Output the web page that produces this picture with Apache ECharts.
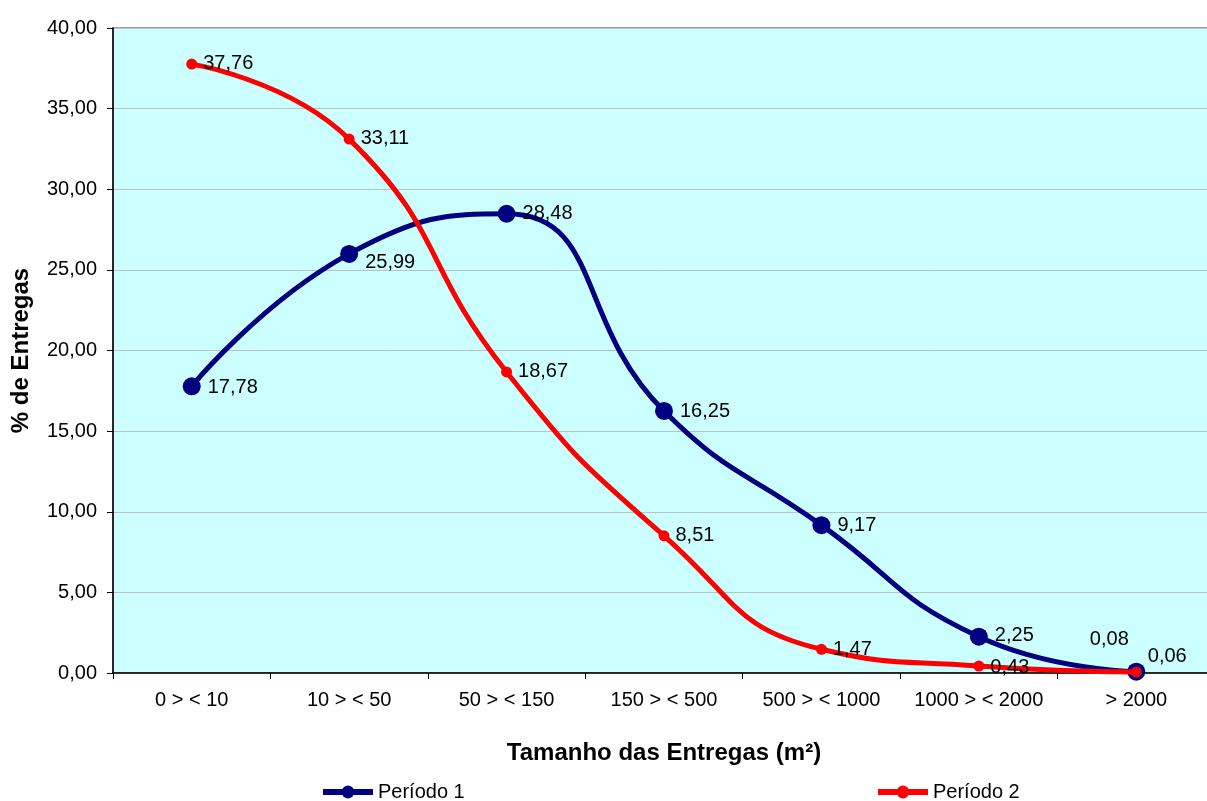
<!DOCTYPE html>
<html>
<head>
<meta charset="utf-8">
<script src="https://cdn.jsdelivr.net/npm/echarts@6/dist/echarts.min.js"></script>
<style>
  html, body { margin: 0; padding: 0; background: #fff; }
  #main { width: 1207px; height: 801px; }
</style>
</head>
<body>
<div id="main"></div>
<script>
const categories = ['0 > < 10', '10 > < 50', '50 > < 150', '150 > < 500', '500 > < 1000', '1000 > < 2000', '> 2000'];
const periodo1 = [17.78, 25.99, 28.48, 16.25, 9.17, 2.25, 0.08];
const periodo2 = [37.76, 33.11, 18.67, 8.51, 1.47, 0.43, 0.06];

const fmt = (v) => v.toFixed(2).replace('.', ',');
const font = 'Liberation Sans, Arial, sans-serif';

// label offsets per point, to mimic the original placement
const p1Offsets = [[0, 1], [0, 9], [0, 0], [0, 1], [0, 0], [0, -1], [0, 0]];
const p2Offsets = [[0, -1], [0, -1], [0, 0], [0, 0], [0, 0], [0, 1], [0, -16]];

function buildData(values, offsets, special) {
  return values.map((v, i) => {
    let item = {value: v, label: {offset: offsets[i]}};
    if (special && special[i]) {
      item.label = special[i];
    }
    return item;
  });
}

const chart = echarts.init(document.getElementById('main'));

const legendText = {fontSize: 20, color: '#000', fontFamily: font};

const option = {
  animation: false,
  textStyle: {fontFamily: font},
  grid: {
    left: 113,
    top: 28,
    width: 1102,
    height: 645,
    outerBoundsMode: 'none',
    show: true,
    backgroundColor: '#ccffff',
    borderColor: '#808080',
    borderWidth: 1.5,
    containLabel: false
  },
  legend: [
    {
      data: ['Período 1'],
      left: 320,
      top: 782,
      padding: 0,
      itemWidth: 50,
      itemHeight: 16,
      lineStyle: {width: 6},
      textStyle: legendText
    },
    {
      data: ['Período 2'],
      left: 875,
      top: 782,
      padding: 0,
      itemWidth: 50,
      itemHeight: 16,
      lineStyle: {width: 6},
      textStyle: legendText
    }
  ],
  xAxis: {
    type: 'category',
    data: categories,
    boundaryGap: true,
    name: 'Tamanho das Entregas (m²)',
    nameLocation: 'middle',
    nameGap: 68,
    nameTextStyle: {fontSize: 24, fontWeight: 'bold', color: '#000', fontFamily: font},
    axisLine: {lineStyle: {color: '#000', width: 1.5}},
    axisTick: {show: true, interval: 0, length: 6, lineStyle: {color: '#000'}},
    axisLabel: {interval: 0, fontSize: 20, color: '#000', margin: 17, fontFamily: font},
    splitLine: {show: false}
  },
  yAxis: {
    type: 'value',
    min: 0,
    max: 40,
    interval: 5,
    name: '% de Entregas',
    nameLocation: 'middle',
    nameGap: 80,
    nameRotate: 90,
    nameTextStyle: {fontSize: 24, fontWeight: 'bold', color: '#000', fontFamily: font},
    axisLine: {show: true, lineStyle: {color: '#000', width: 1.5}},
    axisTick: {show: true, length: 6, lineStyle: {color: '#000'}},
    axisLabel: {fontSize: 20, color: '#000', margin: 16, formatter: fmt, fontFamily: font},
    splitLine: {show: true, lineStyle: {color: '#c0c0c0', width: 1}}
  },
  series: [
    {
      name: 'Período 1',
      type: 'line',
      smooth: 0.5,
      data: buildData(periodo1, p1Offsets, {
        6: {position: 'top', offset: [-27, -6]}
      }),
      symbol: 'circle',
      symbolSize: 18,
      lineStyle: {color: '#000080', width: 5},
      itemStyle: {color: '#000080'},
      label: {
        show: true,
        position: 'right',
        distance: 7,
        fontSize: 20,
        color: '#000',
        fontFamily: font,
        formatter: (p) => fmt(p.value)
      },
      z: 2
    },
    {
      name: 'Período 2',
      type: 'line',
      smooth: 0.5,
      data: buildData(periodo2, p2Offsets),
      symbol: 'circle',
      symbolSize: 11,
      lineStyle: {color: '#ff0000', width: 5},
      itemStyle: {color: '#ff0000'},
      label: {
        show: true,
        position: 'right',
        distance: 6,
        fontSize: 20,
        color: '#000',
        fontFamily: font,
        formatter: (p) => fmt(p.value)
      },
      z: 3
    }
  ]
};

chart.setOption(option);
</script>
</body>
</html>
